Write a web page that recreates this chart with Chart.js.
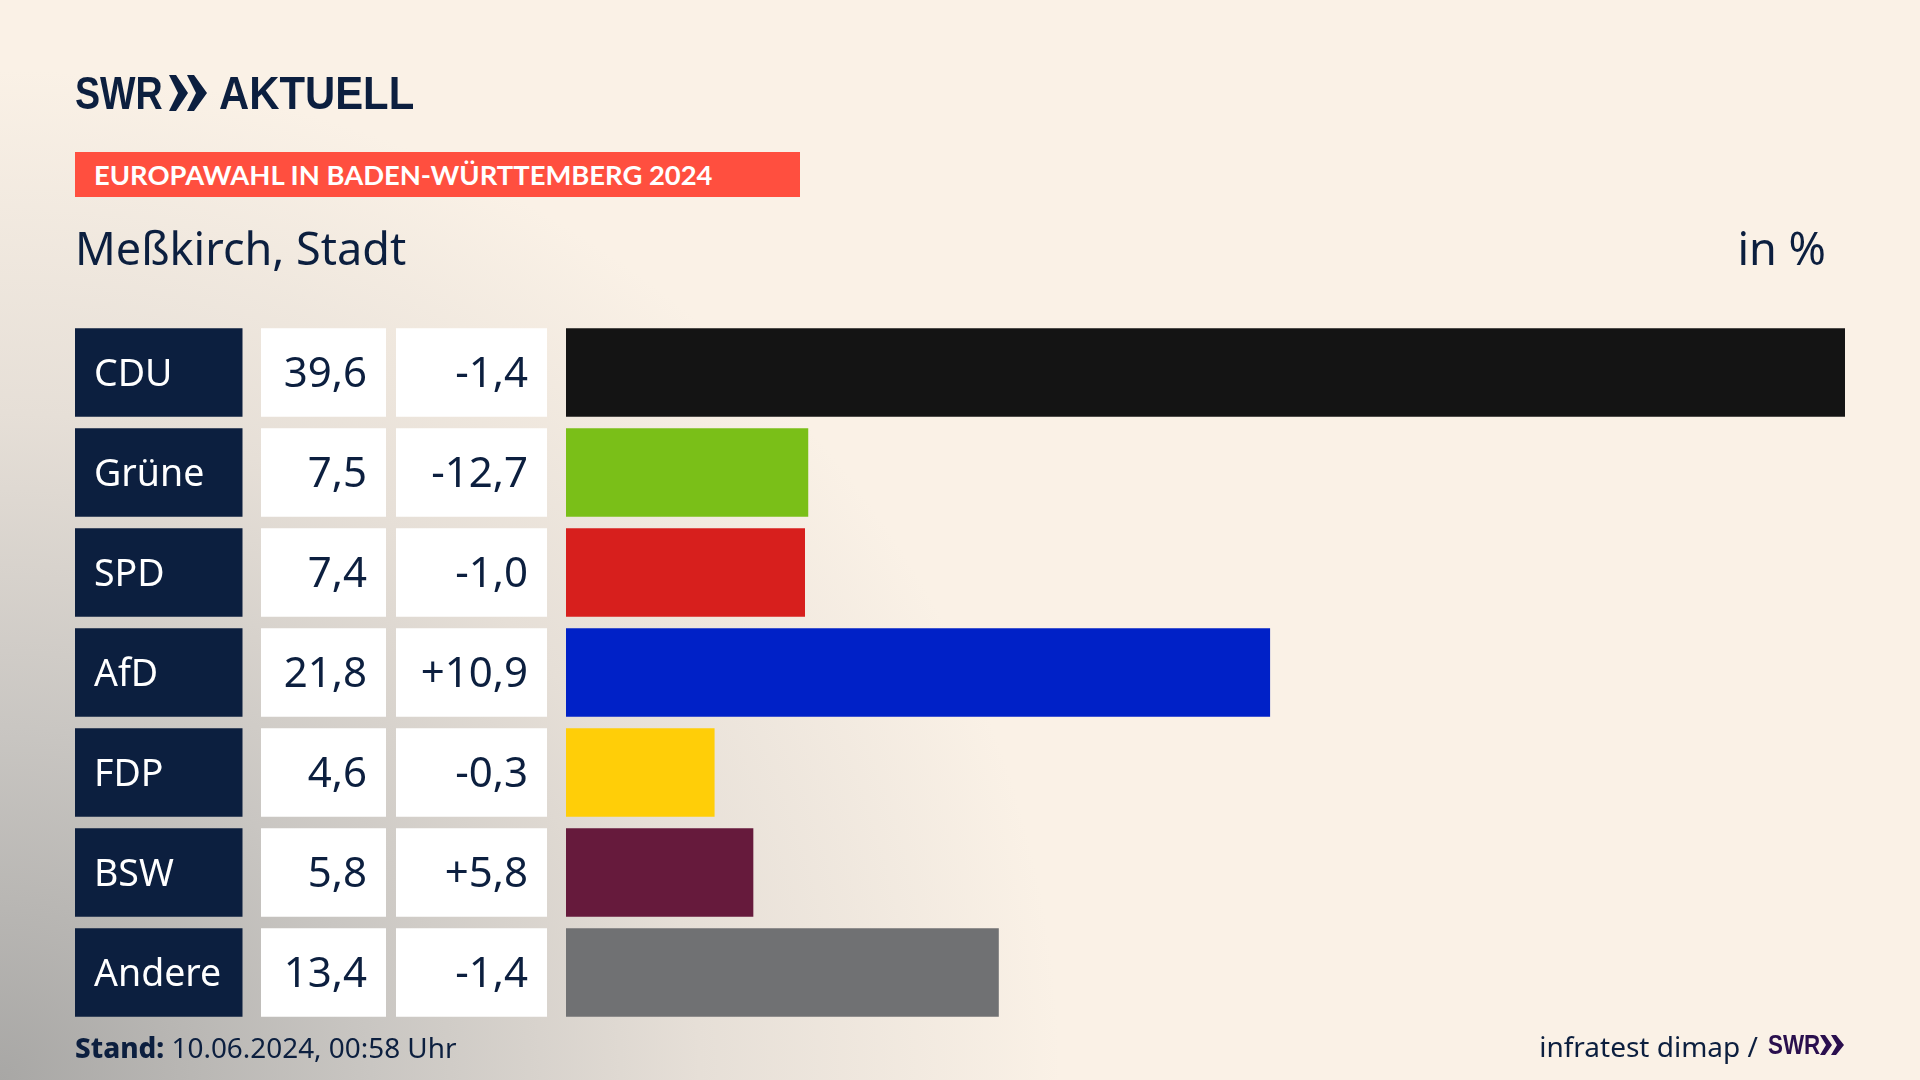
<!DOCTYPE html>
<html lang="de">
<head>
<meta charset="utf-8">
<title>Europawahl Meßkirch</title>
<script src="https://cdn.jsdelivr.net/npm/chart.js@4"></script>
<style>
  html, body { margin: 0; padding: 0; }
  body {
    width: 1920px; height: 1080px; overflow: hidden; position: relative;
    font-family: "Noto Sans", sans-serif; color: #0c1f3f;
    background:
      radial-gradient(ellipse 1060px 1010px at 0 1080px, #a8a7a5 0%, #c9c6c2 35%, #e6dfd7 66%, rgba(250,241,230,0) 100%),
      #faf1e6;
  }
  canvas { position: absolute; left: 0; top: 0; }
  .abs { position: absolute; white-space: nowrap; }
  .logoText { font: bold 47px/58px "Liberation Sans", sans-serif; transform-origin: left top; top: 64px; }
  #swr { left: 75px; transform: scaleX(0.8); }
  #aktuell { left: 219px; transform: scaleX(0.89); }
  #chev { left: 169px; top: 75px; }
  #banner { left: 75px; top: 152px; width: 725px; height: 45px; background: #ff4f3f; color: #fff;
    font: bold 27.4px/45px Lato, sans-serif; padding-left: 19px; box-sizing: border-box; }
  #title { left: 75px; top: 218px; font-size: 45px; line-height: 60px; }
  #unit { right: 94px; top: 218px; font-size: 45px; line-height: 60px; }
  #stand { left: 75px; top: 1028px; font-size: 27.9px; line-height: 38px; }
  #stand b { font-weight: 800; }
  #source { right: 162px; top: 1027px; font-size: 28px; line-height: 38px; }
  #swrSmall { left: 1768px; top: 1026px; font: bold 28px/38px "Liberation Sans", sans-serif; color: #2a0f4e;
    transform: scaleX(0.8); transform-origin: left top; }
  #chevSmall { left: 1820px; top: 1035px; }
</style>
</head>
<body>
<canvas id="bars" width="1920" height="1080"></canvas>
<div class="abs logoText" id="swr">SWR</div>
<svg class="abs" id="chev" width="38" height="36" viewBox="0 0 38 36" fill="#0c1f3f"><path d="M0 0 L7 0 L19 18 L7 36 L0 36 L9 18 Z M18 0 L25 0 L38 18 L25 36 L18 36 L27 18 Z"/></svg>
<div class="abs logoText" id="aktuell">AKTUELL</div>
<div class="abs" id="banner">EUROPAWAHL IN BADEN-WÜRTTEMBERG 2024</div>
<div class="abs" id="title">Meßkirch, Stadt</div>
<div class="abs" id="unit">in %</div>
<div class="abs" id="stand"><b>Stand:</b> 10.06.2024, 00:58 Uhr</div>
<div class="abs" id="source">infratest dimap /</div>
<div class="abs" id="swrSmall">SWR</div>
<svg class="abs" id="chevSmall" width="24" height="20" viewBox="0 0 24 20" fill="#2a0f4e"><path d="M0 0 L5 0 L12 10 L5 20 L0 20 L6 10 Z M11 0 L16 0 L24 10 L16 20 L11 20 L17 10 Z"/></svg>
<script>
const parties = ["CDU", "Grüne", "SPD", "AfD", "FDP", "BSW", "Andere"];
const shares = [39.6, 7.5, 7.4, 21.8, 4.6, 5.8, 13.4];
const changes = [-1.4, -12.7, -1.0, 10.9, -0.3, 5.8, -1.4];
const colors = ["#141414", "#7abf18", "#d71f1d", "#0021c7", "#ffce08", "#661a3c", "#707173"];

const navy = "#0c1f3f";

function fmt(v) {
  return v.toFixed(1).replace(".", ",");
}
function fmtChange(v) {
  return (v > 0 ? "+" : "") + fmt(v);
}

// the three table columns left of the bars, one row per category
const tableCells = {
  id: "tableCells",
  beforeDatasetsDraw(chart) {
    const c = chart.ctx;
    const y = chart.scales.y;
    const h = chart.getDatasetMeta(0).data[0].height;
    c.save();
    c.textBaseline = "middle";
    parties.forEach(function (name, i) {
      const mid = y.getPixelForValue(i);
      const top = mid - h / 2;
      c.fillStyle = navy;
      c.fillRect(75, top, 167.5, h);
      c.fillStyle = "#fff";
      c.fillRect(261, top, 125, h);
      c.fillRect(396, top, 151, h);
      c.font = "37.5px 'Noto Sans', sans-serif";
      c.fillStyle = "#fff";
      c.textAlign = "left";
      c.fillText(name, 94, mid + 2.5);
      c.font = "42px 'Noto Sans', sans-serif";
      c.fillStyle = navy;
      c.textAlign = "right";
      c.fillText(fmt(shares[i]), 367, mid + 2.5);
      c.fillText(fmtChange(changes[i]), 528, mid + 2.5);
    });
    c.restore();
  }
};

new Chart(document.getElementById("bars"), {
  type: "bar",
  data: {
    labels: parties,
    datasets: [{
      data: shares,
      backgroundColor: colors,
      barPercentage: 0.885,
      categoryPercentage: 1
    }]
  },
  options: {
    indexAxis: "y",
    responsive: false,
    animation: false,
    layout: { padding: { left: 566, right: 75, top: 322.5, bottom: 57.5 } },
    plugins: { legend: { display: false }, tooltip: { enabled: false } },
    scales: {
      x: { display: false, min: 0, max: 39.6 },
      y: { display: false }
    }
  },
  plugins: [tableCells]
});
</script>
</body>
</html>
